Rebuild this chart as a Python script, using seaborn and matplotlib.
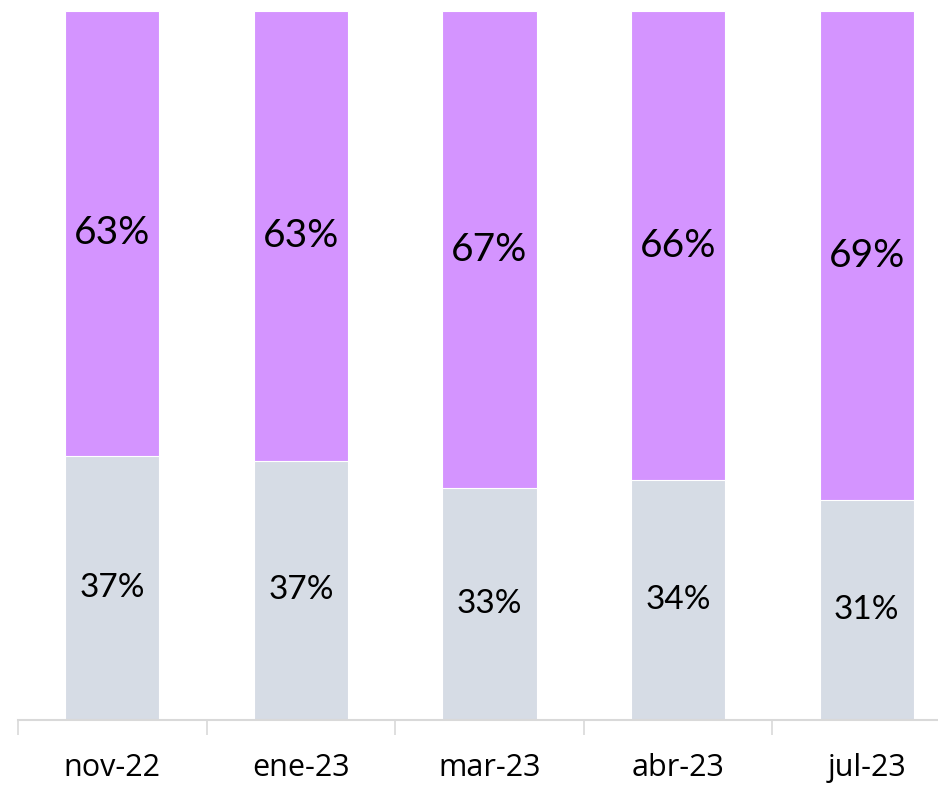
import matplotlib
matplotlib.use('Agg')
import matplotlib.pyplot as plt
import pandas as pd
import seaborn as sns

meses = ['nov-22', 'ene-23', 'mar-23', 'abr-23', 'jul-23']
pct_gris = [37.3, 36.6, 32.7, 33.9, 31.0]
pct_morado = [62.7, 63.4, 67.3, 66.1, 69.0]

COLOR_MORADO = '#D494FF'
COLOR_GRIS = '#D6DCE5'
COLOR_EJE = '#D9D9D9'


def dibujar_barras():
    df = pd.DataFrame({'mes': meses, 'gris': pct_gris, 'morado': pct_morado})
    df['total'] = df['gris'] + df['morado']

    sns.set_style('white')
    plt.rcParams['font.family'] = ['Lato', 'DejaVu Sans']

    fig = plt.figure(figsize=(9.38, 7.87), dpi=100)
    eje = fig.add_axes([18 / 938, 1 - 720 / 787, 943 / 938, (720 - 11.3) / 787])

    # barra completa en morado y encima la parte gris
    sns.barplot(data=df, x='mes', y='total', color=COLOR_MORADO, width=0.5,
                edgecolor='white', linewidth=0.8, saturation=1, ax=eje)
    sns.barplot(data=df, x='mes', y='gris', color=COLOR_GRIS, width=0.5,
                edgecolor='white', linewidth=0.8, saturation=1, ax=eje)

    for i, fila in df.iterrows():
        eje.text(i, fila['gris'] / 2, f"{round(fila['gris']):.0f}%",
                 ha='center', va='center', fontsize=24, color='black')
        eje.text(i, fila['gris'] + fila['morado'] / 2, f"{round(fila['morado']):.0f}%",
                 ha='center', va='center', fontsize=28, color='black')

    eje.set_xlim(-0.5, len(meses) - 0.5)
    eje.set_ylim(0, 100)
    eje.set_xlabel('')
    eje.set_ylabel('')
    eje.set_yticks([])

    eje.set_xticks(range(len(meses)))
    eje.set_xticklabels(meses, fontsize=22, color='black', family=['Open Sans', 'DejaVu Sans'])
    eje.set_xticks([i - 0.5 for i in range(len(meses) + 1)], minor=True)
    eje.tick_params(axis='x', which='major', length=0, pad=24)
    eje.tick_params(axis='x', which='minor', length=11, width=1.2, color=COLOR_EJE, bottom=True)

    for lado in ['left', 'right', 'top']:
        eje.spines[lado].set_visible(False)
    eje.spines['bottom'].set_color(COLOR_EJE)
    eje.spines['bottom'].set_linewidth(1.5)
    return fig


if __name__ == '__main__':
    fig = dibujar_barras()
    fig.savefig('out.png', dpi=100)
